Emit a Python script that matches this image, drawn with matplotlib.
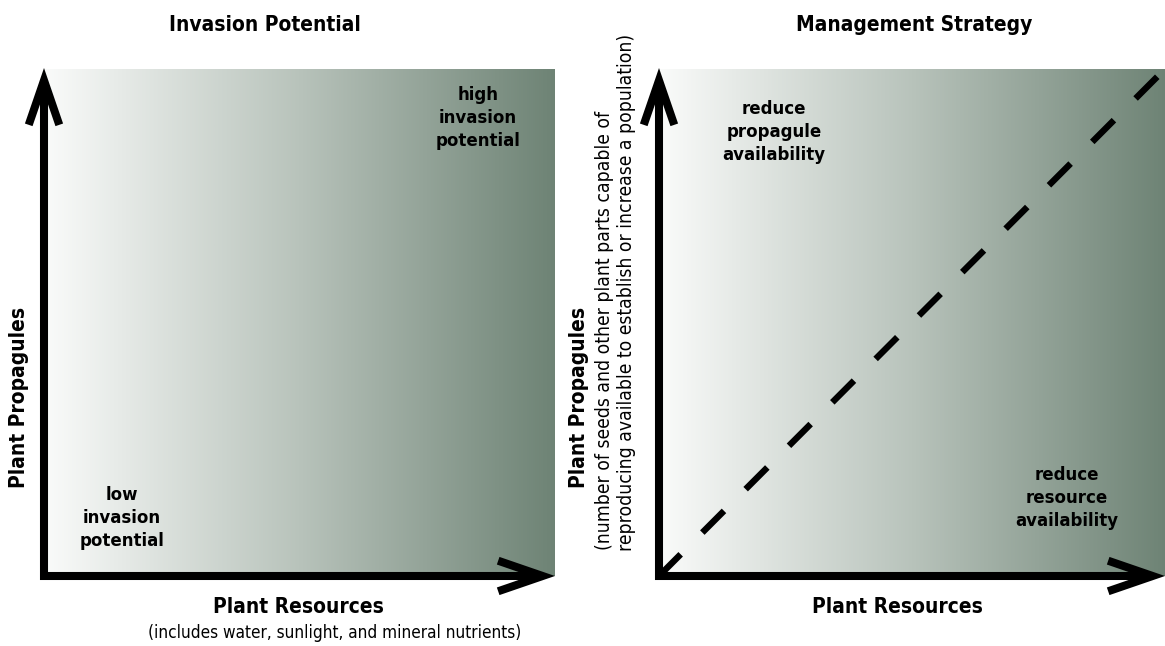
import numpy as np
import matplotlib
matplotlib.use("Agg")
import matplotlib.pyplot as plt
from matplotlib import font_manager
from matplotlib.patches import FancyArrowPatch
from matplotlib.colors import LinearSegmentedColormap

# ---------------- content ----------------
panel_titles = ["Invasion Potential", "Management Strategy"]
x_labels = ["Plant Resources", "Plant Resources"]
x_sublabel = "(includes water, sunlight, and mineral nutrients)"
y_label = "Plant Propagules"
y_sublabel_lines = ["(number of seeds and other plant parts capable of",
                    "reproducing available to establish or increase a population)"]
invasion_labels = ["low\ninvasion\npotential", "high\ninvasion\npotential"]
strategy_labels = ["reduce\npropagule\navailability", "reduce\nresource\navailability"]
gradient_colors = ["#fafbfa", "#b8c3bb", "#6e8375"]
boundary_x = [0.0, 1.0]
boundary_y = [0.0, 1.0]

# ---------------- fonts ----------------
names = {f.name for f in font_manager.fontManager.ttflist}
if "Liberation Sans Narrow" in names:
    FAM, STR = "Liberation Sans Narrow", "normal"
else:
    FAM, STR = "DejaVu Sans", "condensed"
plt.rcParams["font.family"] = [FAM, "DejaVu Sans"]
plt.rcParams["font.stretch"] = STR

W, H = 1165, 646
fig = plt.figure(figsize=(W / 100, H / 100), dpi=100)
fig.patch.set_facecolor("white")


def fx(x):
    return x / W


def fy(y):
    return 1 - y / H


cmap = LinearSegmentedColormap.from_list("grad", gradient_colors)
grad = np.linspace(0, 1, 512).reshape(1, -1)

# axes in pixels: (left, top, right, bottom)
boxes = [(44, 69, 555, 576), (659, 69, 1165, 576)]
axes = []
for (l, t, r, b) in boxes:
    ax = fig.add_axes([fx(l), fy(b), (r - l) / W, (b - t) / H])
    ax.set_xlim(0, 1)
    ax.set_ylim(0, 1)
    ax.imshow(grad, extent=[0, 1, 0, 1], aspect="auto", cmap=cmap,
              interpolation="bilinear", zorder=0)
    ax.axis("off")
    axes.append(ax)

LW = 5.8  # points (~8 px)
for ax, (l, t, r, b) in zip(axes, boxes):
    pw, ph = r - l, b - t
    ox = 4.0 / pw
    oy = 4.0 / ph
    style = "->,head_length=32,head_width=11"
    a1 = FancyArrowPatch((-ox, 0), (1, 0), transform=ax.transAxes,
                         arrowstyle=style, mutation_scale=1, lw=LW,
                         color="black", shrinkA=0, shrinkB=0,
                         joinstyle="miter", capstyle="butt", clip_on=False,
                         zorder=5)
    a2 = FancyArrowPatch((0, -oy), (0, 1.0 + 1.0 / ph), transform=ax.transAxes,
                         arrowstyle=style, mutation_scale=1, lw=LW,
                         color="black", shrinkA=0, shrinkB=0,
                         joinstyle="miter", capstyle="butt", clip_on=False,
                         zorder=5)
    ax.add_patch(a1)
    ax.add_patch(a2)

# dashed boundary on strategy panel
axes[1].plot(boundary_x, boundary_y, color="black", lw=4.6,
             linestyle=(0, (4.8, 4.8)), solid_capstyle="butt",
             dash_capstyle="butt", zorder=4, clip_on=False)

bold = dict(fontweight="bold", fontstretch=STR, color="black")
reg = dict(fontweight="normal", fontstretch=STR, color="black")

BIG = 15.0
SUB = 12.3
YSUB = 13.9
LAB = 13.3

# titles
fig.text(fx(265), fy(25), panel_titles[0], ha="center", va="center", fontsize=BIG, **bold)
fig.text(fx(914), fy(25), panel_titles[1], ha="center", va="center", fontsize=BIG, **bold)

# x labels
fig.text(fx(298), fy(607), x_labels[0], ha="center", va="center", fontsize=BIG, **bold)
fig.text(fx(335), fy(633), x_sublabel, ha="center", va="center", fontsize=SUB, **reg)
fig.text(fx(897), fy(607), x_labels[1], ha="center", va="center", fontsize=BIG, **bold)

# y labels
fig.text(fx(19), fy(397), y_label, ha="center", va="center", rotation=90, fontsize=BIG, **bold)
fig.text(fx(579), fy(397), y_label, ha="center", va="center", rotation=90, fontsize=BIG, **bold)
fig.text(fx(604), fy(550), y_sublabel_lines[0], ha="left", va="center", rotation=90,
         rotation_mode="anchor", fontsize=YSUB, **reg)
fig.text(fx(627), fy(551), y_sublabel_lines[1], ha="left", va="center", rotation=90,
         rotation_mode="anchor", fontsize=YSUB, **reg)

# region labels
corner_pos = [(122, 518), (478, 118)]
for (x, y), s in zip(corner_pos, invasion_labels):
    fig.text(fx(x), fy(y), s, ha="center", va="center", fontsize=LAB,
             linespacing=1.35, **bold)
strategy_pos = [(774, 132), (1067, 498)]
for (x, y), s in zip(strategy_pos, strategy_labels):
    fig.text(fx(x), fy(y), s, ha="center", va="center", fontsize=LAB,
             linespacing=1.35, **bold)

fig.savefig("out.png", dpi=100, facecolor="white")
